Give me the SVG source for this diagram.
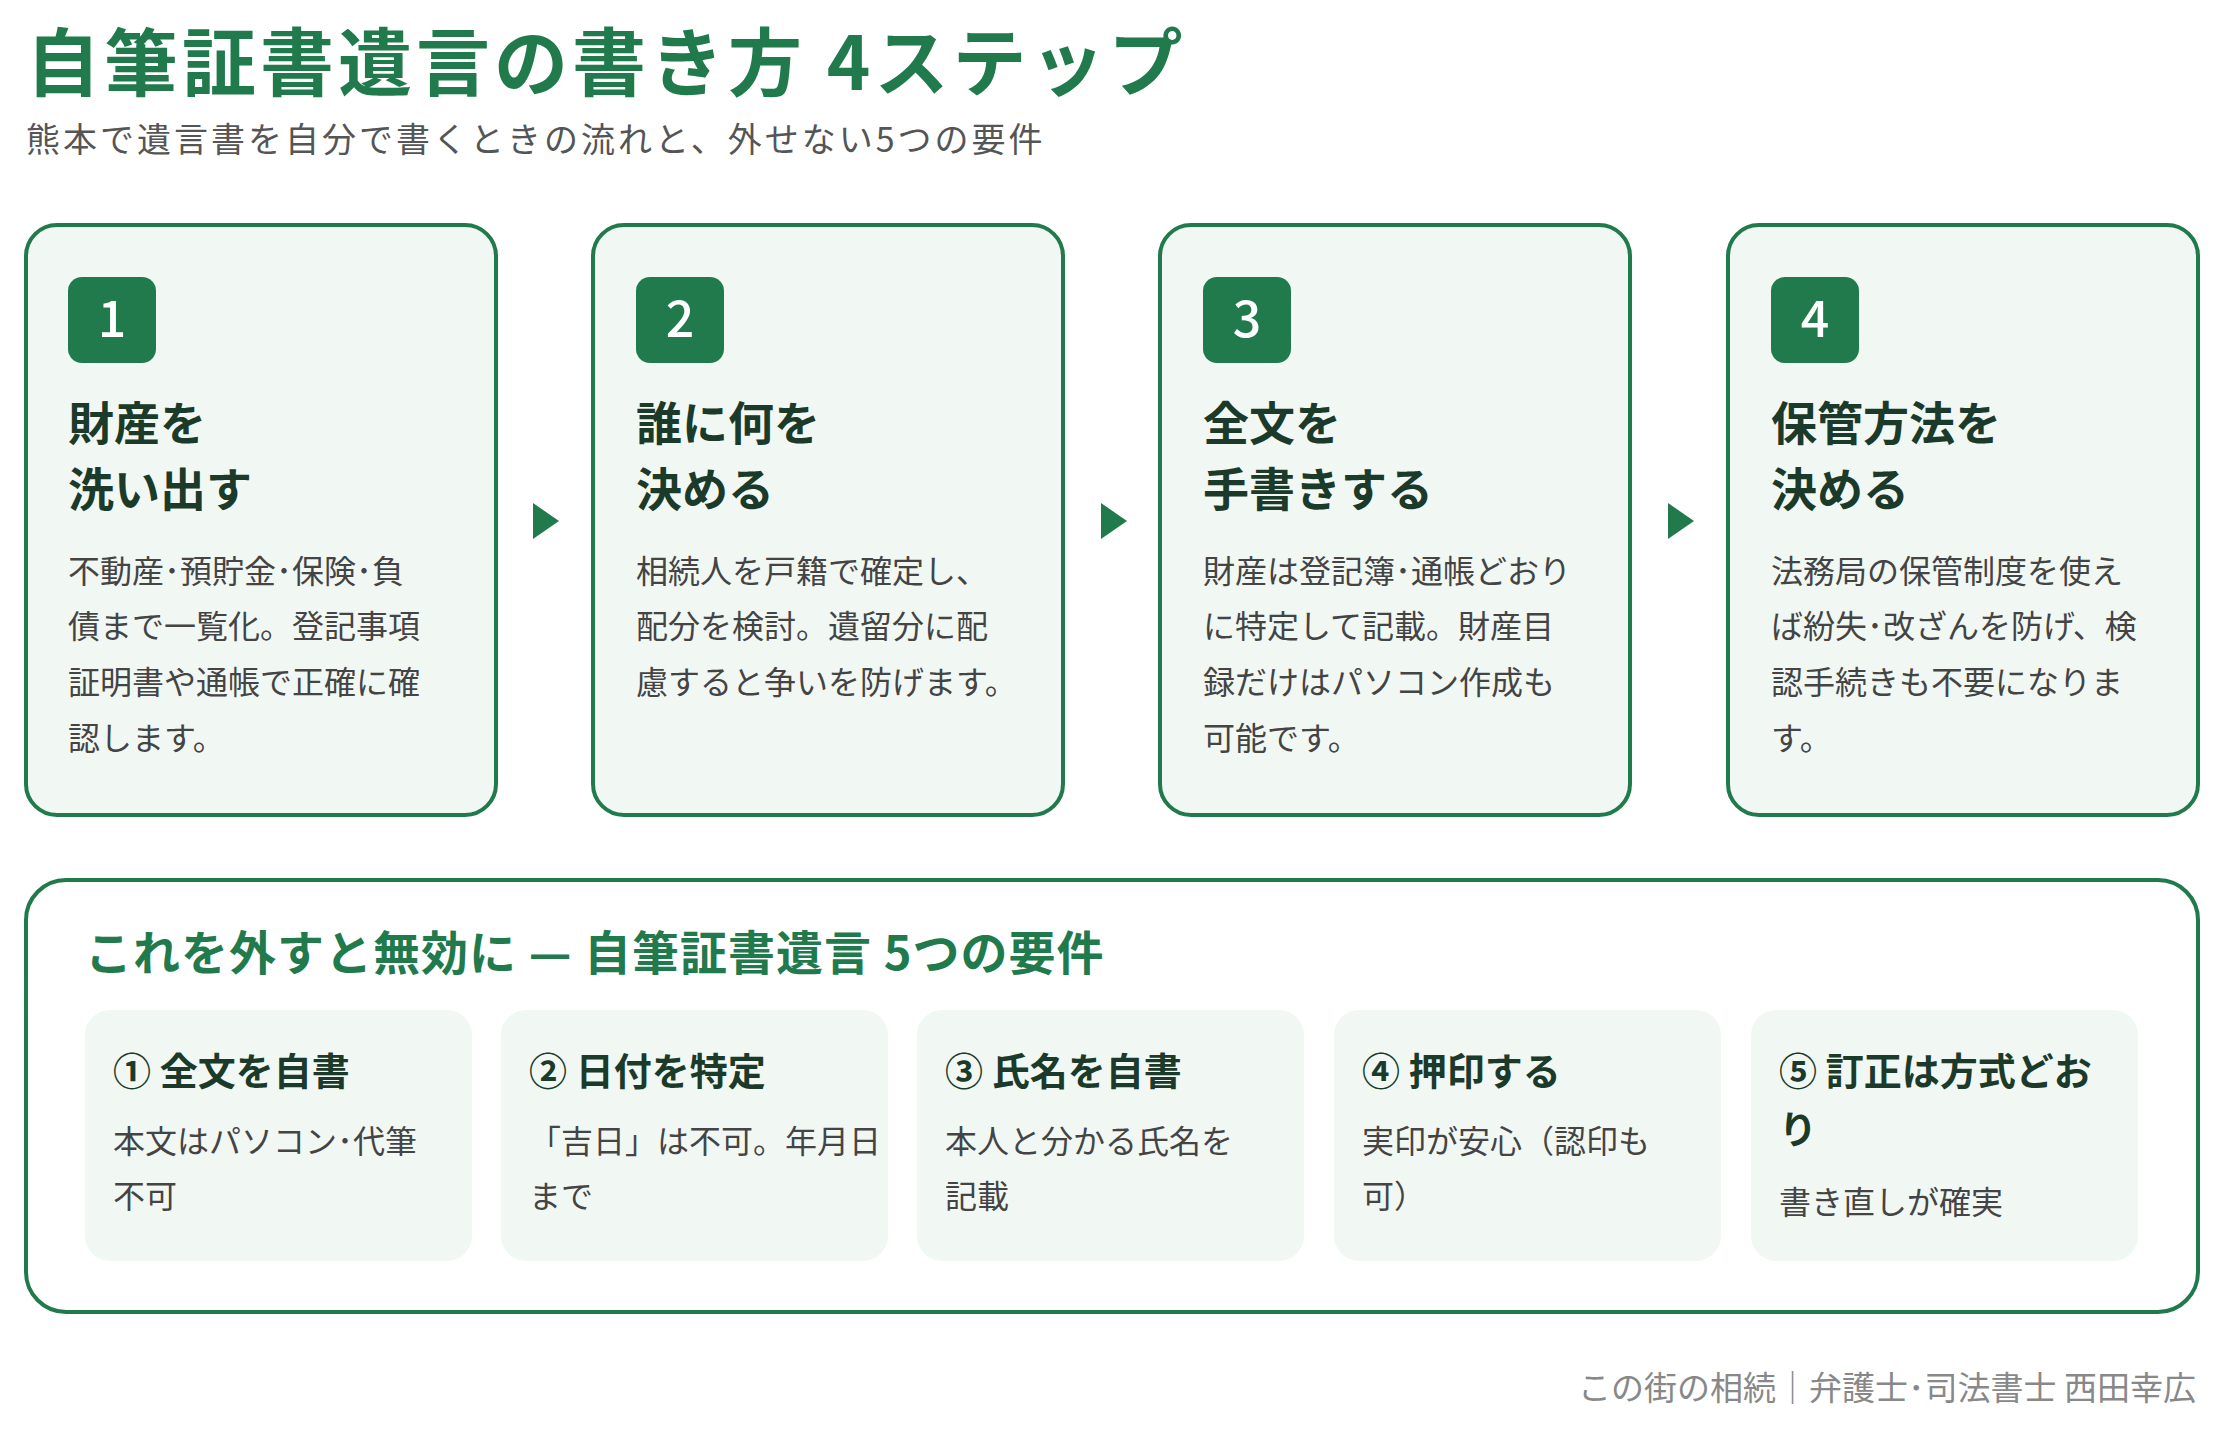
<svg xmlns="http://www.w3.org/2000/svg" width="2224" height="1430" viewBox="0 0 2224 1430">
<style>
text{font-family:"Noto Sans CJK JP","Noto Sans",sans-serif}
.card{fill:#f1f8f4;stroke:#217a4c;stroke-width:4}
.badge{fill:#217a4c}
.num{fill:#fff;font-size:50px;font-weight:500;text-anchor:middle}
.h{fill:#1b3a2a;font-size:46px;font-weight:700}
.b{fill:#444;font-size:32px}
.sc{fill:#f1f8f4}
.sh{fill:#1b3a2a;font-size:38px;font-weight:700}
.arr{fill:#217a4c}
</style>
<rect width="2224" height="1430" fill="#fff"/>
<text x="26" y="90" font-size="74" font-weight="700" fill="#217a4c" letter-spacing="4">自筆証書遺言の書き方 4ステップ</text>
<text x="26" y="152" font-size="34" fill="#555" letter-spacing="3">熊本で遺言書を自分で書くときの流れと、外せない5つの要件</text>
<g id="step1"><rect class="card" x="26" y="225" width="470" height="590" rx="31"/><rect class="badge" x="68" y="277" width="88" height="86" rx="14"/><text class="num" x="112" y="337">1</text>
<text class="h" x="68" y="440">財産を</text><text class="h" x="68" y="506">洗い出す</text>
<text class="b" x="68" y="583">不動産･預貯金･保険･負</text><text class="b" x="68" y="638">債まで一覧化。登記事項</text><text class="b" x="68" y="694">証明書や通帳で正確に確</text><text class="b" x="68" y="750">認します。</text></g>
<g id="step2"><rect class="card" x="593" y="225" width="470" height="590" rx="31"/><rect class="badge" x="636" y="277" width="88" height="86" rx="14"/><text class="num" x="680" y="337">2</text>
<text class="h" x="636" y="440">誰に何を</text><text class="h" x="636" y="506">決める</text>
<text class="b" x="636" y="583">相続人を戸籍で確定し、</text><text class="b" x="636" y="638">配分を検討。遺留分に配</text><text class="b" x="636" y="694">慮すると争いを防げます。</text></g>
<g id="step3"><rect class="card" x="1160" y="225" width="470" height="590" rx="31"/><rect class="badge" x="1203" y="277" width="88" height="86" rx="14"/><text class="num" x="1247" y="337">3</text>
<text class="h" x="1203" y="440">全文を</text><text class="h" x="1203" y="506">手書きする</text>
<text class="b" x="1203" y="583">財産は登記簿･通帳どおり</text><text class="b" x="1203" y="638">に特定して記載。財産目</text><text class="b" x="1203" y="694">録だけはパソコン作成も</text><text class="b" x="1203" y="750">可能です。</text></g>
<g id="step4"><rect class="card" x="1728" y="225" width="470" height="590" rx="31"/><rect class="badge" x="1771" y="277" width="88" height="86" rx="14"/><text class="num" x="1815" y="337">4</text>
<text class="h" x="1771" y="440">保管方法を</text><text class="h" x="1771" y="506">決める</text>
<text class="b" x="1771" y="583">法務局の保管制度を使え</text><text class="b" x="1771" y="638">ば紛失･改ざんを防げ、検</text><text class="b" x="1771" y="694">認手続きも不要になりま</text><text class="b" x="1771" y="750">す。</text></g>
<g id="connectors"><polygon class="arr" points="533,503 559,521 533,539"/><polygon class="arr" points="1101,503 1127,521 1101,539"/><polygon class="arr" points="1668,503 1694,521 1668,539"/></g>
<g id="requirements"><rect x="26" y="880" width="2172" height="432" rx="40" fill="#fff" stroke="#217a4c" stroke-width="4"/>
<text x="85" y="970" font-size="47" font-weight="700" fill="#217a4c" letter-spacing="1">これを外すと無効に — 自筆証書遺言 5つの要件</text></g>
<g id="req1"><rect class="sc" x="85" y="1010" width="387" height="251" rx="25"/><text class="sh" x="113" y="1085">① 全文を自書</text><text class="b" x="113" y="1153">本文はパソコン･代筆</text><text class="b" x="113" y="1208">不可</text></g>
<g id="req2"><rect class="sc" x="501" y="1010" width="387" height="251" rx="25"/><text class="sh" x="529" y="1085">② 日付を特定</text><text class="b" x="529" y="1153">「吉日」は不可。年月日</text><text class="b" x="529" y="1208">まで</text></g>
<g id="req3"><rect class="sc" x="917" y="1010" width="387" height="251" rx="25"/><text class="sh" x="945" y="1085">③ 氏名を自書</text><text class="b" x="945" y="1153">本人と分かる氏名を</text><text class="b" x="945" y="1208">記載</text></g>
<g id="req4"><rect class="sc" x="1334" y="1010" width="387" height="251" rx="25"/><text class="sh" x="1362" y="1085">④ 押印する</text><text class="b" x="1362" y="1153">実印が安心（認印も</text><text class="b" x="1362" y="1208">可）</text></g>
<g id="req5"><rect class="sc" x="1751" y="1010" width="387" height="251" rx="25"/><text class="sh" x="1779" y="1085">⑤ 訂正は方式どお</text><text class="sh" x="1779" y="1143">り</text><text class="b" x="1779" y="1214">書き直しが確実</text></g>
<text x="2196" y="1400" font-size="33" fill="#888" text-anchor="end">この街の相続｜弁護士･司法書士 西田幸広</text>
</svg>
